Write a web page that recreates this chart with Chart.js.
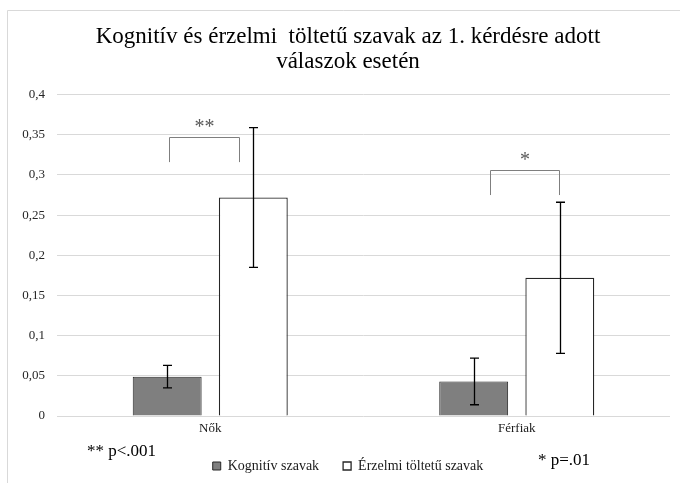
<!DOCTYPE html>
<html>
<head>
<meta charset="utf-8">
<script src="https://cdn.jsdelivr.net/npm/chart.js@4/dist/chart.umd.min.js"></script>
<style>
  html, body { margin: 0; padding: 0; background: #fff; }
  #wrap { position: relative; width: 680px; height: 483px; }
</style>
</head>
<body>
<div id="wrap"><canvas id="szavakChart" width="680" height="483"></canvas></div>
<script>
// adatok
const categories = ["Nők", "Férfiak"]
const kognitiv = [0.049, 0.043]
const kognitivErr = [0.014, 0.029]
const erzelmi = [0.272, 0.172]
const erzelmiErr = [0.087, 0.094]
const yTickLabels = ["0", "0,05", "0,1", "0,15", "0,2", "0,25", "0,3", "0,35", "0,4"]
const sigMarks = ["**", "*"]
const footnotes = ["** p<.001", "* p=.01"]

const serif = "'Liberation Serif', 'Times New Roman', serif"

// keret + fehér háttér
const framePlugin = {
  id: "frame",
  beforeDraw(chart) {
    const ctx = chart.ctx
    ctx.save()
    ctx.fillStyle = "#fff"
    ctx.fillRect(0, 0, chart.width, chart.height)
    ctx.strokeStyle = "#d9d9d9"
    ctx.lineWidth = 1
    ctx.beginPath()
    ctx.moveTo(7.5, chart.height)
    ctx.lineTo(7.5, 10.5)
    ctx.lineTo(chart.width, 10.5)
    ctx.stroke()
    ctx.restore()
  },
}

// hibasávok
const errorBarPlugin = {
  id: "errorBars",
  afterDatasetsDraw(chart) {
    const ctx = chart.ctx
    const y = chart.scales.y
    const errs = [kognitivErr, erzelmiErr]
    ctx.save()
    ctx.strokeStyle = "#000"
    ctx.lineWidth = 1.3
    chart.data.datasets.forEach((ds, di) => {
      chart.getDatasetMeta(di).data.forEach((bar, i) => {
        const v = ds.data[i]
        const e = errs[di][i]
        const x = Math.round(bar.x) + 0.5
        const top = y.getPixelForValue(v + e)
        const bot = y.getPixelForValue(v - e)
        ctx.beginPath()
        ctx.moveTo(x, top)
        ctx.lineTo(x, bot)
        ctx.moveTo(x - 4.5, top)
        ctx.lineTo(x + 4.5, top)
        ctx.moveTo(x - 4.5, bot)
        ctx.lineTo(x + 4.5, bot)
        ctx.stroke()
      })
    })
    ctx.restore()
  },
}

// szignifikancia jelölések és lábjegyzetek
const sigPlugin = {
  id: "sig",
  afterDraw(chart, args, opts) {
    const ctx = chart.ctx
    const xs = chart.scales.x
    const ys = chart.scales.y
    ctx.save()
    opts.brackets.forEach((b, i) => {
      const x1 = Math.round(xs.getPixelForValue(i + b.from)) + 0.5
      const x2 = Math.round(xs.getPixelForValue(i + b.to)) + 0.5
      const yHi = Math.round(ys.getPixelForValue(b.high)) + 0.5
      const yLo = ys.getPixelForValue(b.low)
      ctx.strokeStyle = "#7f7f7f"
      ctx.lineWidth = 1
      ctx.beginPath()
      ctx.moveTo(x1, yLo)
      ctx.lineTo(x1, yHi)
      ctx.lineTo(x2, yHi)
      ctx.lineTo(x2, yLo)
      ctx.stroke()
      ctx.fillStyle = "#595959"
      ctx.font = "20px " + serif
      ctx.textAlign = "center"
      ctx.textBaseline = "middle"
      ctx.fillText(sigMarks[i], (x1 + x2) / 2, yHi - 10)
    })
    ctx.fillStyle = "#000"
    ctx.font = "17px " + serif
    ctx.textAlign = "left"
    ctx.textBaseline = "middle"
    ctx.fillText(footnotes[0], 87, 452)
    ctx.fillText(footnotes[1], 538, 461)
    ctx.restore()
  },
}

// a tengelyfeliratok ne vágódjanak le
const noLabelClip = (scale) => { scale._computeLabelArea = () => undefined }

let szavakChart

function initChart() {
  const ctx = document.getElementById("szavakChart").getContext("2d")
  szavakChart = new Chart(ctx, {
    type: "bar",
    data: {
      labels: categories,
      datasets: [
        {
          label: "Kognitív szavak",
          data: kognitiv,
          backgroundColor: "#7f7f7f",
          borderColor: "#262626",
          borderWidth: 1,
          categoryPercentage: 0.562,
          barPercentage: 0.8,
        },
        {
          label: "Érzelmi töltetű szavak",
          data: erzelmi,
          backgroundColor: "#ffffff",
          borderColor: "#262626",
          borderWidth: 1.3,
          categoryPercentage: 0.562,
          barPercentage: 0.8,
        },
      ],
    },
    options: {
      responsive: false,
      animation: false,
      layout: { padding: { left: 26, right: 10, top: 10, bottom: 0 } },
      scales: {
        x: {
          grid: { display: false, drawTicks: false },
          border: { display: false },
          afterFit: (scale) => {
            scale.height = 19
            noLabelClip(scale)
          },
          ticks: { color: "#1a1a1a", font: { family: serif, size: 13 }, padding: 5 },
        },
        y: {
          min: 0,
          max: 0.4,
          grid: { color: "#d9d9d9", lineWidth: 1, drawTicks: false },
          border: { display: false },
          afterFit: (scale) => {
            scale.width = 31
            noLabelClip(scale)
          },
          ticks: {
            stepSize: 0.05,
            padding: 12,
            color: "#262626",
            font: { family: serif, size: 13 },
            callback: (v, i) => yTickLabels[i],
          },
        },
      },
      plugins: {
        title: {
          display: true,
          text: ["Kognitív és érzelmi  töltetű szavak az 1. kérdésre adott", "válaszok esetén"],
          color: "#000",
          font: { family: serif, size: 23, weight: "normal", lineHeight: 1.1 },
          padding: { top: 14, bottom: 20 },
        },
        legend: {
          position: "bottom",
          labels: {
            color: "#1a1a1a",
            font: { family: serif, size: 14 },
            boxWidth: 8,
            boxHeight: 8,
            padding: 24,
          },
        },
        tooltip: { enabled: false },
        sig: {
          brackets: [
            { from: -0.134, to: 0.095, low: 0.316, high: 0.347 },
            { from: -0.088, to: 0.137, low: 0.275, high: 0.306 },
          ],
        },
      },
    },
    plugins: [framePlugin, errorBarPlugin, sigPlugin],
  })
}

document.addEventListener("DOMContentLoaded", () => {
  initChart()
})
</script>
</body>
</html>
